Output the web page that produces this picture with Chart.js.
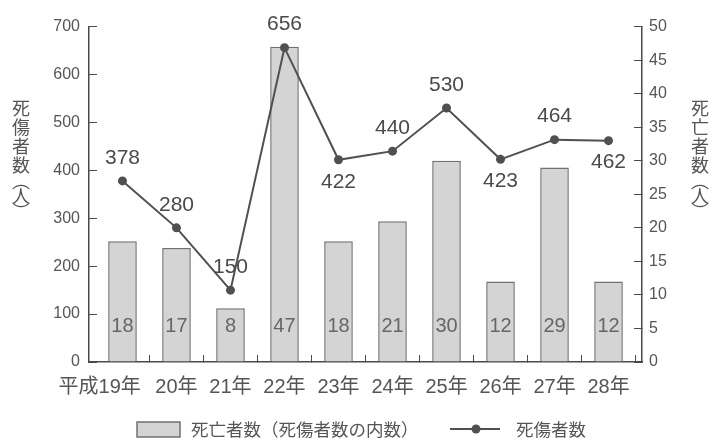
<!DOCTYPE html>
<html><head><meta charset="utf-8">
<script src="https://cdn.jsdelivr.net/npm/chart.js@4/dist/chart.umd.min.js"></script>
<style>html,body{margin:0;padding:0;background:#fff;}canvas{display:block;}</style>
</head><body>
<canvas id="c" width="714" height="438"></canvas>
<script>
// ---- data ----
const categories = ['平成19年','20年','21年','22年','23年','24年','25年','26年','27年','28年'];
const deaths = [18,17,8,47,18,21,30,12,29,12];            // 死亡者数 (right axis)
const casualties = [378,280,150,656,422,440,530,423,464,462]; // 死傷者数 (left axis)
const leftAxisMax = 700, leftAxisStep = 100;
const rightAxisMax = 50, rightAxisStep = 5;
const barLegendText = '死亡者数（死傷者数の内数）';
const lineLegendText = '死傷者数';
const leftTitleChars = ['死','傷','者','数','︵','人','︶'];
const rightTitleChars = ['死','亡','者','数','︵','人','︶'];
// label placement (which casualty labels sit below their point)
const labelBelow = [false,false,false,false,true,false,false,true,false,true];

const NUM_FONT = "'Liberation Sans', Arial, 'Noto Sans CJK JP', sans-serif";
const JP_FONT = "'Noto Sans CJK JP', 'Noto Sans CJK SC', sans-serif";
const INK = '#4a4a4a';
const TEXT = '#555555';

const valueLabels = {
  id: 'valueLabels',
  afterDatasetsDraw(chart) {
    const ctx = chart.ctx;
    const lineMeta = chart.getDatasetMeta(0);
    const barMeta = chart.getDatasetMeta(1);
    ctx.save();
    ctx.textAlign = 'center';
    ctx.textBaseline = 'middle';
    ctx.font = '20px ' + NUM_FONT;
    ctx.fillStyle = '#666666';
    const by = chart.chartArea.bottom - 36;
    barMeta.data.forEach((el, i) => ctx.fillText(String(deaths[i]), el.x, by));
    ctx.font = '21px ' + NUM_FONT;
    ctx.fillStyle = '#4a4a4a';
    lineMeta.data.forEach((el, i) => {
      const dy = labelBelow[i] ? 22 : -23;
      ctx.fillText(String(casualties[i]), el.x, el.y + dy);
    });
    ctx.restore();
  }
};

const sideTitles = {
  id: 'sideTitles',
  afterDraw(chart) {
    const ctx = chart.ctx;
    ctx.save();
    ctx.font = '18px ' + JP_FONT;
    ctx.fillStyle = TEXT;
    ctx.textAlign = 'center';
    ctx.textBaseline = 'middle';
    const ys = [108, 127, 146, 165, 181, 196, 211];
    leftTitleChars.forEach((ch, i) => ctx.fillText(ch, 21, ys[i]));
    rightTitleChars.forEach((ch, i) => ctx.fillText(ch, 700, ys[i]));
    ctx.restore();
  }
};

const bottomLegend = {
  id: 'bottomLegend',
  afterDraw(chart) {
    const ctx = chart.ctx;
    const y = 429;
    ctx.save();
    // bar item
    ctx.fillStyle = '#d4d4d4';
    ctx.strokeStyle = '#707070';
    ctx.lineWidth = 1.5;
    ctx.fillRect(137, 422, 43, 15);
    ctx.strokeRect(137, 422, 43, 15);
    ctx.font = '17.5px ' + JP_FONT;
    ctx.fillStyle = TEXT;
    ctx.textAlign = 'left';
    ctx.textBaseline = 'middle';
    ctx.fillText(barLegendText, 191, y);
    // line item
    ctx.strokeStyle = '#505050';
    ctx.lineWidth = 2;
    ctx.beginPath(); ctx.moveTo(450, y); ctx.lineTo(500, y); ctx.stroke();
    ctx.fillStyle = '#505050';
    ctx.beginPath(); ctx.arc(476, y, 4.5, 0, Math.PI * 2); ctx.fill();
    ctx.fillStyle = TEXT;
    ctx.fillText(lineLegendText, 516, y);
    ctx.restore();
  }
};

new Chart(document.getElementById('c'), {
  type: 'bar',
  data: {
    labels: categories,
    datasets: [
      { type: 'line', label: lineLegendText, data: casualties, yAxisID: 'y', order: 0,
        borderColor: '#505050', borderWidth: 2, tension: 0,
        pointRadius: 4.5, pointBackgroundColor: '#505050', pointBorderColor: '#505050', pointBorderWidth: 0 },
      { type: 'bar', label: barLegendText, data: deaths, yAxisID: 'y1', order: 1,
        backgroundColor: '#d4d4d4', borderColor: '#707070', borderWidth: 1.5,
        categoryPercentage: 1, barPercentage: 0.53 }
    ]
  },
  options: {
    responsive: false, animation: false, devicePixelRatio: 1,
    layout: { padding: { top: 22, left: 0, right: 0, bottom: 0 } },
    plugins: { legend: { display: false }, tooltip: { enabled: false } },
    scales: {
      x: {
        type: 'category', offset: true,
        afterBuildTicks: s => { s._startValue = -0.62; s._valueRange = 10.24; },
        afterFit: s => { s.height = 76; },
        grid: { display: true, drawOnChartArea: false, drawTicks: true, offset: true, tickLength: -7, tickWidth: 1,
                tickColor: c => (c.index === 0 || c.index === categories.length) ? 'rgba(0,0,0,0)' : INK },
        border: { display: true, color: INK, width: 1.5 },
        ticks: { color: TEXT, font: { family: NUM_FONT, size: 20 }, padding: 20, maxRotation: 0, autoSkip: false,
                 callback: (v, i) => i === 0 ? categories[i] + '\u3000\u3000 ' : categories[i] }
      },
      y: {
        position: 'left', min: 0, max: leftAxisMax,
        afterFit: s => { s.width = 89; },
        grid: { drawOnChartArea: false, tickLength: -8, tickColor: INK, tickWidth: 1 },
        border: { color: INK, width: 1.5 },
        ticks: { stepSize: leftAxisStep, color: TEXT, font: { family: NUM_FONT, size: 16 }, padding: 17 }
      },
      y1: {
        position: 'right', min: 0, max: rightAxisMax,
        afterFit: s => { s.width = 72; },
        grid: { drawOnChartArea: false, tickLength: -8, tickColor: INK, tickWidth: 1 },
        border: { color: INK, width: 1.5 },
        ticks: { stepSize: rightAxisStep, color: TEXT, font: { family: NUM_FONT, size: 16 }, padding: 15 }
      }
    }
  },
  plugins: [valueLabels, sideTitles, bottomLegend]
});
</script>
</body></html>
